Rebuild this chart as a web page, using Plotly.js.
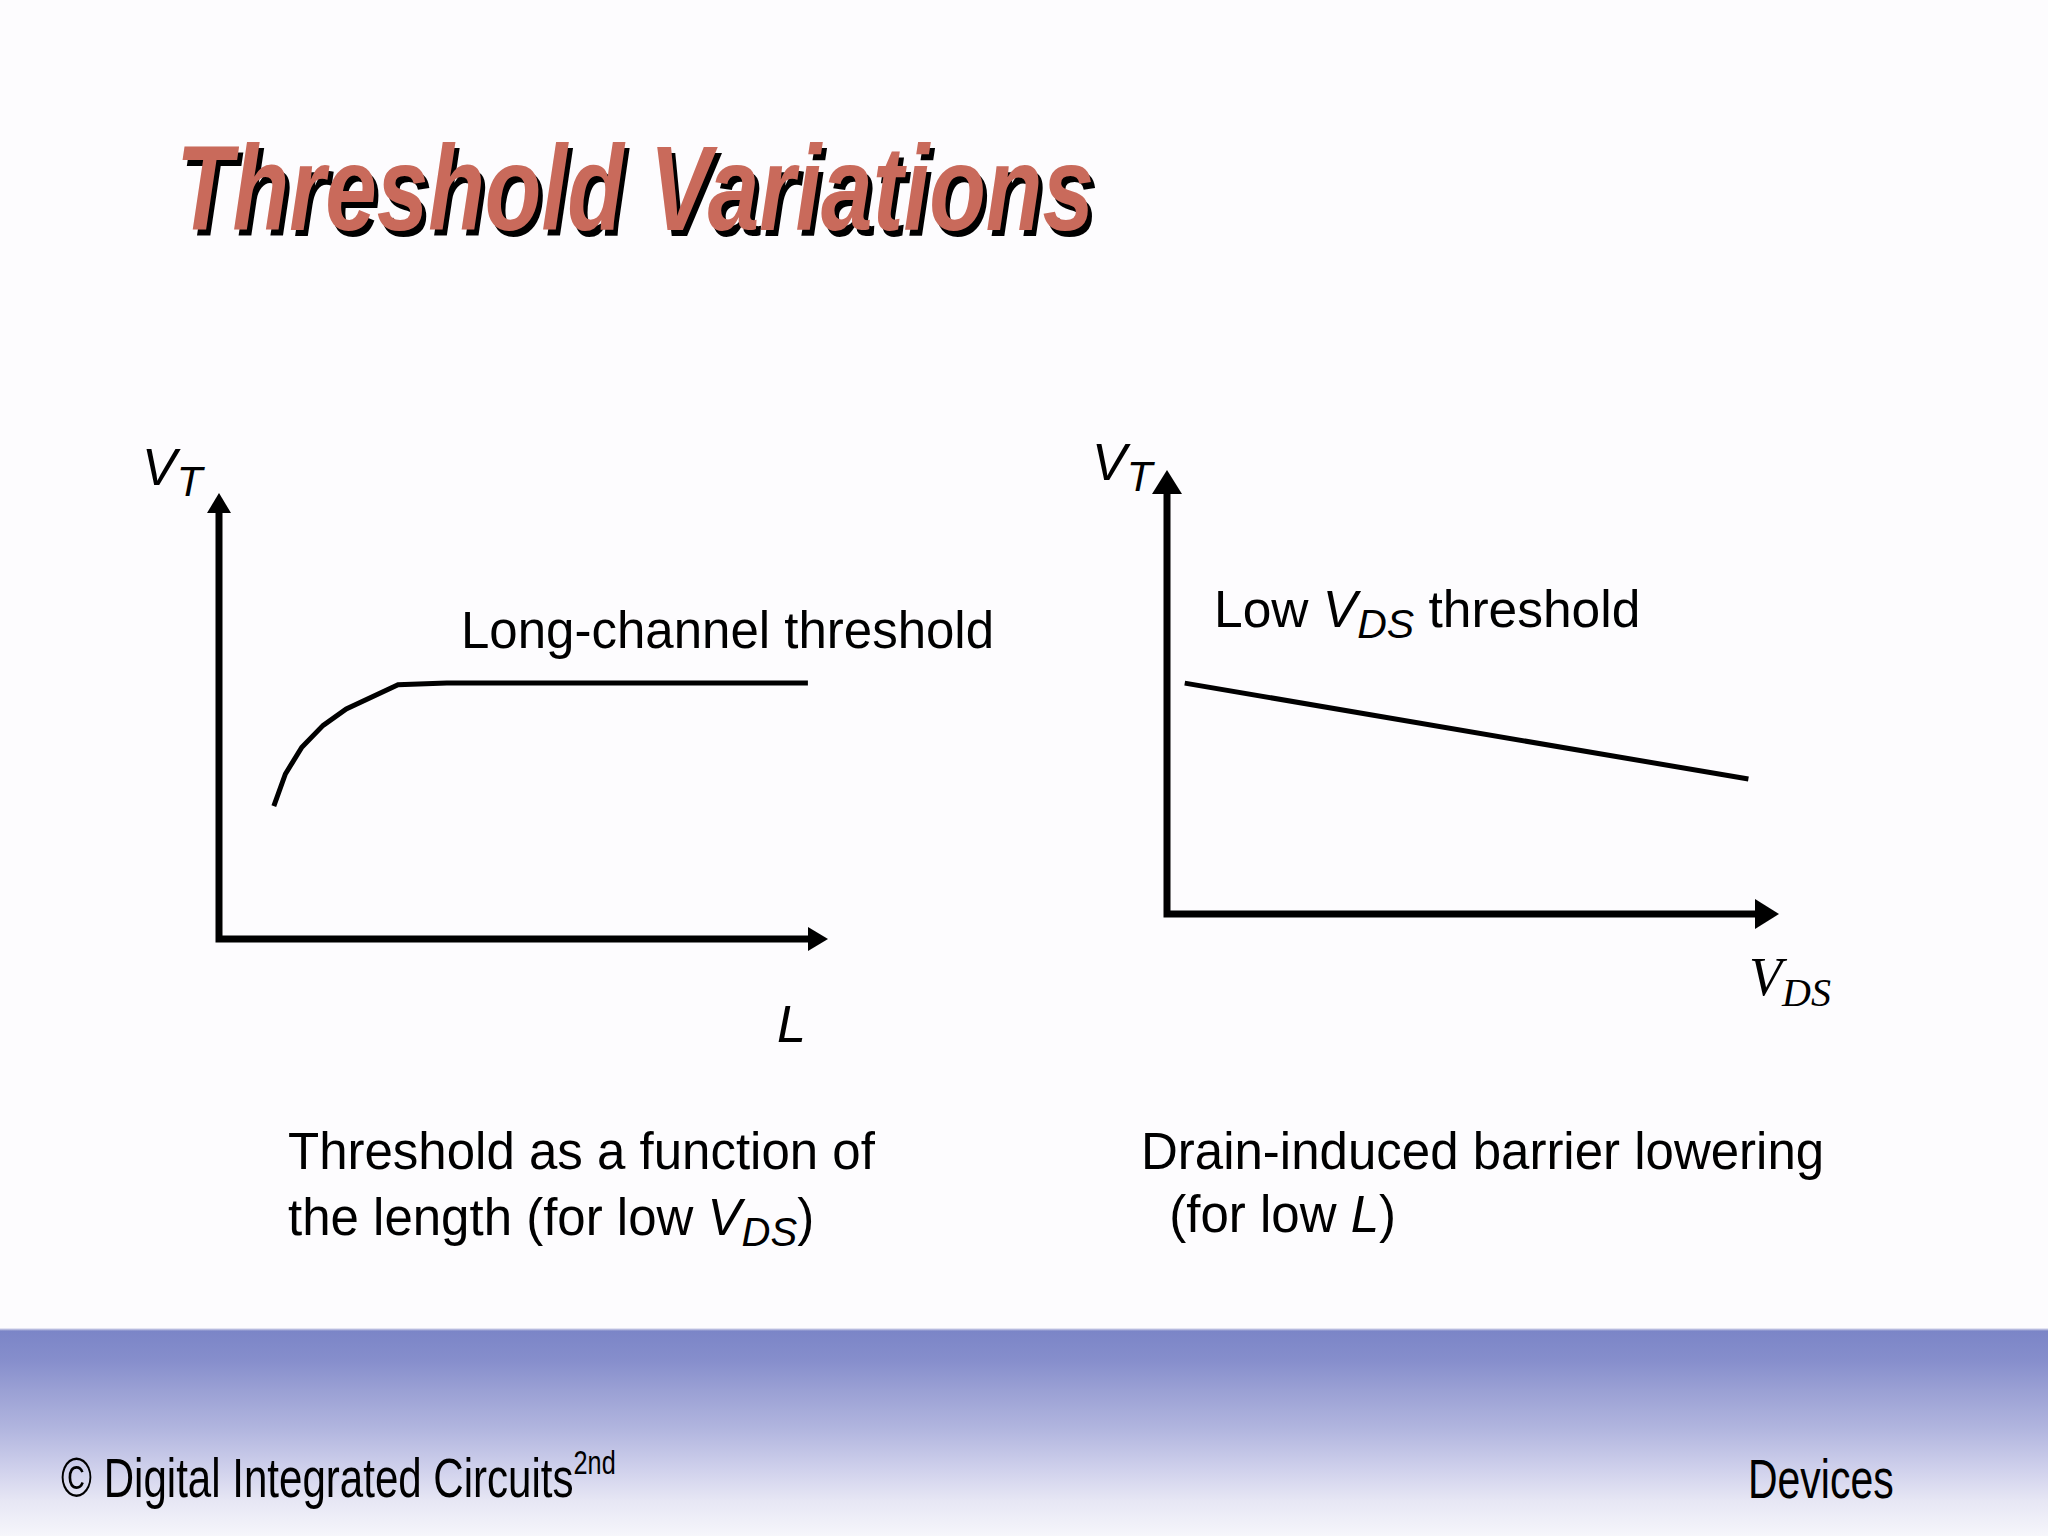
<!DOCTYPE html>
<html>
<head>
<meta charset="utf-8">
<script src="https://cdn.plot.ly/plotly-3.0.1.min.js"></script>
<style>
html,body{margin:0;padding:0;background:#fdfcfe;}
#wrap{position:relative;width:2048px;height:1536px;
background:linear-gradient(to bottom,#fdfcfe 0px,#fdfcfe 1328px,#c8cae6 1329px,#7b85c7 1331px,#868ecc 1360px,#9aa0d4 1390px,#b2b6df 1430px,#d0d1ec 1470px,#e6e6f4 1500px,#f6f6fb 1536px);}
#chart{position:absolute;left:0;top:0;width:2048px;height:1536px;}
</style>
</head>
<body>
<div id="wrap"><div id="chart"></div></div>
<script>
// ---- data (arbitrary units) ----
// Left: threshold vs channel length L (for low VDS)
const lenL   = [0.90, 1.09, 1.36, 1.71, 2.09, 2.94, 3.74, 9.67];
const vtLen  = [2.98, 3.70, 4.30, 4.79, 5.16, 5.70, 5.74, 5.74];
// Right: threshold vs VDS (DIBL, for low L)
const vdsV   = [0.29, 9.50];
const vtVds  = [5.20, 3.04];

// ---- text ----
const sub = (s, size) => `<sub><span style="font-size:${size}px">${s}</span></sub>`;
const titleText = "Threshold Variations";
const vtLabel = "<i>V" + sub("T", 42) + "</i>";
const leftCurveLabel = "Long-channel threshold";
const rightCurveLabel = "Low <i>V" + sub("DS", 41) + "</i> threshold";
const vdsLabel = "<i>V" + sub("DS", 40) + "</i>";
const leftCaption = ["Threshold as a function of", "the length (for low <i>V" + sub("DS", 40) + "</i>)"];
const rightCaption = ["Drain-induced barrier lowering", "\u00a0\u00a0(for low <i>L</i>)"];
const footerLeft = "\u00a9 Digital Integrated Circuits<sup><span style=\"font-size:33px\">2nd</span></sup>";
const footerRight = "Devices";

// ---- layout geometry ----
const W = 2048, H = 1536;
const AX_MAX = 10;           // arrow tip in data units
const LO = -0.6, HI = 10.6;  // axis ranges (padding so thick lines are not clipped)
function xDom(p0, p10){ const u = (p10 - p0) / AX_MAX; return [(p0 + LO*u)/W, (p0 + HI*u)/W]; }
function yDom(p0, p10){ const u = (p0 - p10) / AX_MAX; return [1 - (p0 - LO*u)/H, 1 - (p0 - HI*u)/H]; }
const px = v => v / W, py = v => 1 - v / H;

const axBase = {range:[LO, HI], showgrid:false, zeroline:false, showticklabels:false,
                showline:false, ticks:'', fixedrange:true};

const SANS = "'Liberation Sans', Arial, Helvetica, sans-serif";
const SERIF = "'Liberation Serif', 'Times New Roman', serif";

const traces = [
  {x: lenL, y: vtLen, xaxis:'x', yaxis:'y', mode:'lines',
   line:{color:'#000', width:5}, hoverinfo:'skip', showlegend:false},
  {x: vdsV, y: vtVds, xaxis:'x2', yaxis:'y2', mode:'lines',
   line:{color:'#000', width:5}, hoverinfo:'skip', showlegend:false}
];

function axisShapes(xr, yr, headLen, headHalf){
  const e = AX_MAX - 0.2;
  return [
    {type:'path', xref:xr, yref:yr, path:`M0,${e} L0,0 L${e},0`,
     line:{color:'#000', width:7}, layer:'above'},
    {type:'path', xref:xr, yref:yr, xsizemode:'pixel', ysizemode:'pixel',
     xanchor:AX_MAX, yanchor:0, path:`M0,0 L${-headLen},${headHalf} L${-headLen},${-headHalf} Z`,
     fillcolor:'#000', line:{width:0}, layer:'above'},
    {type:'path', xref:xr, yref:yr, xsizemode:'pixel', ysizemode:'pixel',
     xanchor:0, yanchor:AX_MAX, path:`M0,0 L${-headHalf},${-headLen} L${headHalf},${-headLen} Z`,
     fillcolor:'#000', line:{width:0}, layer:'above'}
  ];
}

function ann(text, x, y, size, family, extra){
  return Object.assign({text:text, xref:'paper', yref:'paper', x:px(x), y:py(y),
    xanchor:'left', yanchor:'middle', showarrow:false, align:'left',
    font:{family:family, size:size, color:'#000'}}, extra || {});
}

const annotations = [
  ann(titleText, 174, 188, 120, SANS,
      {font:{family:SANS, size:120, color:'#c96a5b', weight:'bold', style:'italic',
             shadow:'5px 5px 0px #000'}}),
  ann(vtLabel, 140, 471, 52, SANS),
  ann("<i>L</i>", 775, 1024, 52, SANS),
  ann(leftCurveLabel, 459, 630, 51, SANS),
  ann(vtLabel, 1090, 467, 52, SANS),
  ann(rightCurveLabel, 1212, 613, 51.5, SANS),
  ann(vdsLabel, 1747, 981, 54, SERIF),
  ann(leftCaption[0], 286, 1151, 51, SANS),
  ann(leftCaption[1], 286, 1221, 51, SANS),
  ann(rightCaption[0], 1139, 1151, 51, SANS),
  ann(rightCaption[1], 1139, 1214, 51, SANS),
  ann(footerLeft, 59, 1476, 55, SANS),
  ann(footerRight, 1746, 1479, 55, SANS)
];
// horizontal condensing of narrow-font texts (index -> x scale)
const condense = {0: 0.772, 11: 0.765, 12: 0.745};

const layout = {
  width: W, height: H, margin:{l:0, r:0, t:0, b:0},
  paper_bgcolor:'rgba(0,0,0,0)', plot_bgcolor:'rgba(0,0,0,0)',
  showlegend:false,
  xaxis: Object.assign({}, axBase, {domain:xDom(219, 828), anchor:'y'}),
  yaxis: Object.assign({}, axBase, {domain:yDom(939, 493), anchor:'x'}),
  xaxis2: Object.assign({}, axBase, {domain:xDom(1167, 1779), anchor:'y2'}),
  yaxis2: Object.assign({}, axBase, {domain:yDom(914, 470), anchor:'x2'}),
  shapes: axisShapes('x', 'y', 20, 12).concat(axisShapes('x2', 'y2', 24, 15)),
  annotations: annotations
};

Plotly.newPlot('chart', traces, layout, {staticPlot:true, displayModeBar:false}).then(function(gd){
  Object.keys(condense).forEach(function(i){
    const g = gd.querySelector('.annotation[data-index="' + i + '"]');
    if(!g) return;
    const t = g.querySelector('text');
    if(!t) return;
    const bb = t.getBBox();
    const x0 = bb.x, s = condense[i];
    t.setAttribute('transform', 'translate(' + x0 + ',0) scale(' + s + ',1) translate(' + (-x0) + ',0)');
  });
});
</script>
</body>
</html>
